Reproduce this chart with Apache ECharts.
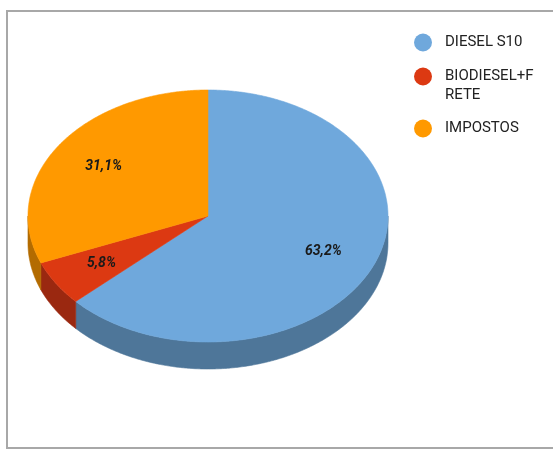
<!DOCTYPE html>
<html><head><meta charset="utf-8">
<script src="https://cdn.jsdelivr.net/npm/echarts@6/dist/echarts.min.js"></script>
<style>html,body{margin:0;padding:0;background:#fff}#c{width:553px;height:450px}</style>
</head><body><div id="c"></div>
<script>
const categories = ['DIESEL S10', 'BIODIESEL+FRETE', 'IMPOSTOS'];
const values = [63.2, 5.8, 31.1];
const topColors = ['#6fa8dc', '#dc3912', '#ff9900'];
const sideColors = ['#4e7699', '#9a2810', '#b36b00'];

const total = values.reduce((a, b) => a + b, 0);
const fmt = v => v.toFixed(1).replace('.', ',') + '%';

function geom(api) {
  const w = api.getWidth(), h = api.getHeight();
  return { cx: w * 0.3761, cy: h * 0.48, rx: w * 0.3255, ry: h * 0.28, d: h * 0.06 };
}

function makeRender(i) {
  return function (params, api) {
    const g = geom(api);
    let start = 0;
    for (let k = 0; k < i; k++) start += values[k];
    const a1 = start / total * 360, a2 = (start + values[i]) / total * 360;
    const pt = (deg, dy) => {
      const r = deg * Math.PI / 180;
      return [g.cx + g.rx * Math.sin(r), g.cy - g.ry * Math.cos(r) + (dy || 0)];
    };
    const children = [];
    const top = [[g.cx, g.cy]];
    for (let a = a1; a < a2; a += 0.5) top.push(pt(a));
    top.push(pt(a2));
    children.push({ type: 'polygon', z2: 10, shape: { points: top },
      style: { fill: topColors[i], stroke: topColors[i], lineWidth: 0.6 } });
    const s1 = Math.max(a1, 90), s2 = Math.min(a2, 270);
    if (s2 > s1) {
      const pts = [];
      for (let a = s1; a < s2; a += 0.5) pts.push(pt(a));
      pts.push(pt(s2));
      for (let a = s2; a > s1; a -= 0.5) pts.push(pt(a, g.d));
      pts.push(pt(s1, g.d));
      children.push({ type: 'polygon', z2: 1, shape: { points: pts },
        style: { fill: sideColors[i], stroke: sideColors[i], lineWidth: 0.6 } });
    }
    const mid = (a1 + a2) / 2 * Math.PI / 180;
    children.push({ type: 'text', z2: 20, style: {
      x: g.cx + 0.7 * g.rx * Math.sin(mid), y: g.cy - 0.7 * g.ry * Math.cos(mid),
      text: fmt(values[i]), font: 'italic bold 14px Roboto', fill: '#1a1a1a',
      align: 'center', verticalAlign: 'middle' } });
    return { type: 'group', children };
  };
}

const legendBase = {
  left: 414, orient: 'vertical', icon: 'circle', itemWidth: 18, itemHeight: 18,
  padding: 0, selectedMode: false,
  textStyle: { fontFamily: 'Roboto', fontSize: 15, color: '#222', lineHeight: 19, padding: [0, 0, 0, 8] }
};

const chart = echarts.init(document.getElementById('c'));
chart.setOption({
  animation: false,
  backgroundColor: '#fff',
  graphic: [{ type: 'rect', shape: { x: 7, y: 11, width: 600, height: 437 },
    style: { fill: 'none', stroke: '#a8a8a8', lineWidth: 2 }, silent: true }],
  legend: [
    Object.assign({}, legendBase, { data: [categories[0]], top: 33 }),
    Object.assign({}, legendBase, { data: [categories[1]], top: 48,
      formatter: name => '\n' + name,
      textStyle: Object.assign({}, legendBase.textStyle, { width: 92, overflow: 'breakAll' }) }),
    Object.assign({}, legendBase, { data: [categories[2]], top: 119 })
  ],
  series: categories.map((name, i) => ({
    type: 'custom', name, coordinateSystem: 'none', silent: true,
    itemStyle: { color: topColors[i] },
    renderItem: makeRender(i), data: [values[i]]
  }))
});
</script></body></html>
